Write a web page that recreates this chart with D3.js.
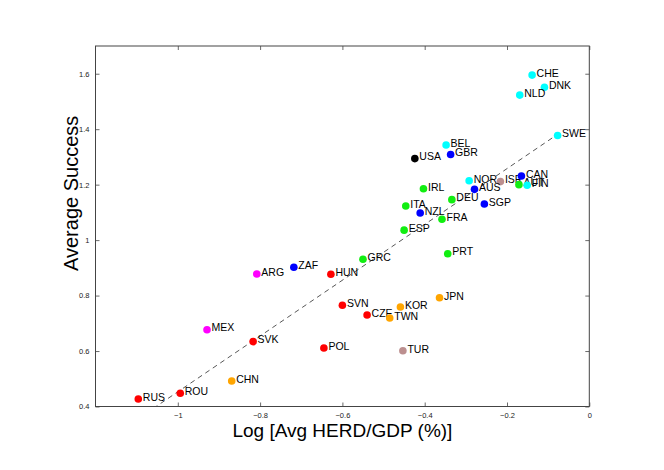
<!DOCTYPE html>
<html>
<head>
<meta charset="utf-8">
<script src="https://cdn.jsdelivr.net/npm/d3@7"></script>
<style>
  body { margin: 0; background: #fff; }
  .tick text { font-family: "Liberation Sans", Arial, sans-serif; }
</style>
</head>
<body>
<div id="scatterplot"></div>
<script>
// country codes, x = log avg HERD/GDP, y = average success
var countries = ['CHE', 'DNK', 'NLD', 'SWE', 'BEL', 'GBR', 'USA', 'NOR', 'ISR', 'CAN',
  'AUT', 'FIN', 'AUS', 'IRL', 'DEU', 'SGP', 'ITA', 'NZL', 'FRA', 'ESP', 'PRT', 'GRC',
  'ZAF', 'ARG', 'HUN', 'JPN', 'KOR', 'SVN', 'CZE', 'TWN', 'MEX', 'SVK', 'POL', 'TUR',
  'CHN', 'ROU', 'RUS']
var logHerd = [-0.139, -0.109, -0.169, -0.077, -0.348, -0.337, -0.424, -0.292, -0.216, -0.165,
  -0.171, -0.151, -0.279, -0.403, -0.334, -0.255, -0.446, -0.411, -0.358, -0.450, -0.344, -0.550,
  -0.718, -0.808, -0.628, -0.364, -0.459, -0.600, -0.540, -0.485, -0.929, -0.817, -0.645, -0.453,
  -0.869, -0.994, -1.096]
var avgSuccess = [1.595, 1.551, 1.523, 1.377, 1.343, 1.309, 1.294, 1.214, 1.211, 1.231,
  1.200, 1.198, 1.183, 1.185, 1.146, 1.130, 1.123, 1.098, 1.075, 1.036, 0.951, 0.931,
  0.902, 0.878, 0.877, 0.792, 0.759, 0.765, 0.730, 0.719, 0.677, 0.634, 0.611, 0.601,
  0.492, 0.448, 0.427]
var groups = ['nordic', 'nordic', 'nordic', 'nordic', 'nordic', 'anglo', 'usa', 'nordic', 'other', 'anglo',
  'europe', 'nordic', 'anglo', 'europe', 'europe', 'anglo', 'europe', 'anglo', 'europe', 'europe', 'europe', 'europe',
  'anglo', 'latam', 'eastern', 'asia', 'asia', 'eastern', 'eastern', 'asia', 'latam', 'eastern', 'eastern', 'other',
  'asia', 'eastern', 'eastern']

var groupNames = ['nordic', 'anglo', 'usa', 'other', 'europe', 'latam', 'eastern', 'asia']
var groupColors = ['#00ffff', '#0000ff', '#000000', '#bc8f8f', '#11ee11', '#ff00ff', '#ff0000', '#ffa500']

// regression line (intercept, slope)
var fit = [1.459, 1.006]

var xTicks = [-1, -0.8, -0.6, -0.4, -0.2, 0]
var yTicks = [0.4, 0.6, 0.8, 1, 1.2, 1.4, 1.6]

var data = countries.map(function(c, i) {
  return {code: c, x: logHerd[i], y: avgSuccess[i], group: groups[i]}
})

// set the dimensions and margins of the graph
var margin = {top: 46, right: 74.7, bottom: 63.5, left: 95.5},
    width = 664 - margin.left - margin.right,
    height = 470 - margin.top - margin.bottom;

var x = d3.scaleLinear().domain([-1.2, 0]).range([0, width]);
var y = d3.scaleLinear().domain([0.4, 1.7]).range([height, 0]);
var color = d3.scaleOrdinal().domain(groupNames).range(groupColors);

var svg = d3.select('#scatterplot')
  .append("svg")
  .attr("width", 664)
  .attr("height", 470)
  .append("g")
  .attr("transform", "translate(" + margin.left + "," + margin.top + ")");

svg.append("clipPath")
  .attr("id", "plotClip")
  .append("rect")
  .attr("width", width)
  .attr("height", height);

// axes with inward ticks on all four sides
function styleAxis(g) {
  g.select(".domain").remove();
  g.selectAll(".tick line").attr("stroke", "#444").attr("stroke-width", 0.8);
  g.selectAll(".tick text").attr("fill", "#222").style("font-size", "7.5px");
}

svg.append("g")
  .attr("transform", "translate(0," + height + ")")
  .call(d3.axisBottom(x).tickValues(xTicks).tickSizeInner(-4).tickSizeOuter(0).tickPadding(6)
    .tickFormat(d3.format("")))
  .call(styleAxis);

svg.append("g")
  .call(d3.axisTop(x).tickValues(xTicks).tickSizeInner(-4).tickSizeOuter(0).tickFormat(""))
  .call(styleAxis);

svg.append("g")
  .call(d3.axisLeft(y).tickValues(yTicks).tickSizeInner(-4).tickSizeOuter(0).tickPadding(6)
    .tickFormat(d3.format("")))
  .call(styleAxis);

svg.append("g")
  .attr("transform", "translate(" + width + ",0)")
  .call(d3.axisRight(y).tickValues(yTicks).tickSizeInner(-4).tickSizeOuter(0).tickFormat(""))
  .call(styleAxis);

svg.append("rect")
  .attr("width", width)
  .attr("height", height)
  .attr("fill", "none")
  .attr("stroke", "#444")
  .attr("stroke-width", 1);

// dashed fit line from min to max x
var xExtent = d3.extent(logHerd);
svg.append("line")
  .attr("clip-path", "url(#plotClip)")
  .attr("x1", x(xExtent[0]))
  .attr("y1", y(fit[0] + fit[1] * xExtent[0]))
  .attr("x2", x(xExtent[1]))
  .attr("y2", y(fit[0] + fit[1] * xExtent[1]))
  .attr("stroke", "#444")
  .attr("stroke-width", 0.9)
  .attr("stroke-dasharray", "5,4");

// points with labels, drawn one country at a time
var points = svg.selectAll(".point")
  .data(data)
  .enter()
  .append("g")
  .attr("class", "point")
  .attr("transform", function(d) { return "translate(" + x(d.x) + "," + y(d.y) + ")"; });

points.append("circle")
  .attr("r", 3.8)
  .attr("fill", function(d) { return color(d.group); });

points.append("text")
  .attr("x", 4.5)
  .attr("y", -1)
  .attr("dominant-baseline", "middle")
  .style("font-family", "'Liberation Sans', Arial, sans-serif")
  .style("font-size", "10.5px")
  .attr("fill", "#000")
  .text(function(d) { return d.code; });

// axis titles
svg.append("text")
  .attr("x", width / 2)
  .attr("y", height + 30)
  .style("text-anchor", "middle")
  .style("font-family", "'Liberation Sans', Arial, sans-serif")
  .style("font-size", "19px")
  .text("Log [Avg HERD/GDP (%)]");

svg.append("text")
  .attr("transform", "rotate(-90)")
  .attr("x", -(271 - margin.top))
  .attr("y", -18)
  .style("text-anchor", "start")
  .style("font-family", "'Liberation Sans', Arial, sans-serif")
  .style("font-size", "20px")
  .text("Average Success");
</script>
</body>
</html>
